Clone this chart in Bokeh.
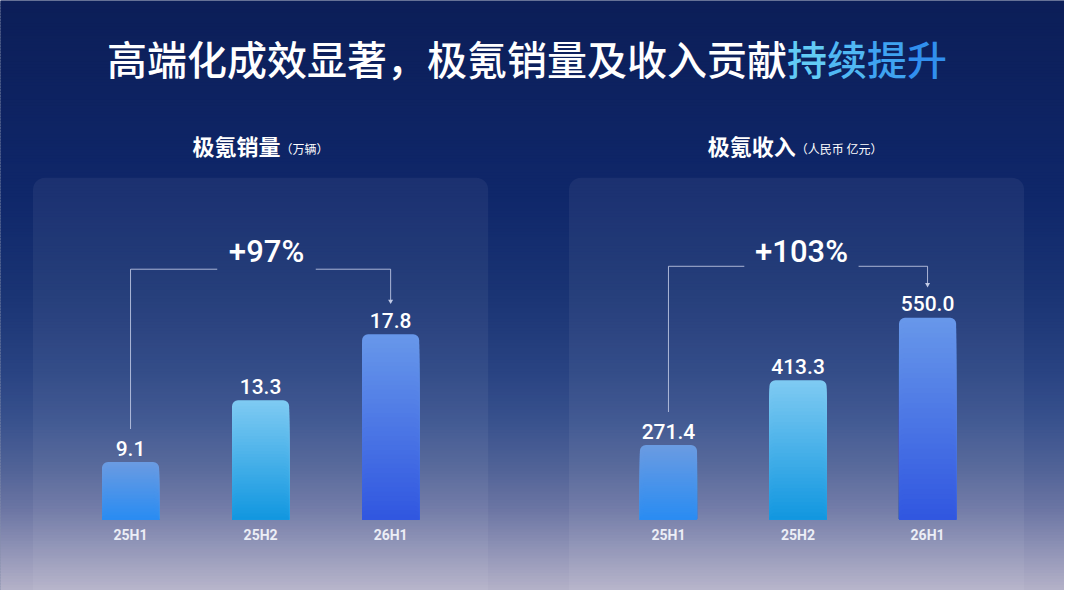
from bokeh.plotting import figure
from bokeh.models import Range1d, ColumnDataSource
from bokeh.core.properties import value
from bokeh.embed import file_html
from bokeh.resources import INLINE

# ---------------- data ----------------
categories = ["25H1", "25H2", "26H1"]
sales = [9.1, 13.3, 17.8]          # 万辆
revenue = [271.4, 413.3, 550.0]     # 人民币 亿元
sales_growth = "+97%"
revenue_growth = "+103%"
sales_labels = ["9.1", "13.3", "17.8"]
revenue_labels = ["271.4", "413.3", "550.0"]
title_white = "高端化成效显著，极氪销量及收入贡献"
title_blue = "持续提升"
sales_title = "极氪销量"
sales_unit = "（万辆）"
revenue_title = "极氪收入"
revenue_unit = "（人民币 亿元）"

# ---------------- style / layout constants ----------------
W, H = 1064, 590
X0, X1, Y0, Y1 = 0, 1080, 0, 606          # design coordinates
SX = (X1 - X0) / W                        # design units per screen px
BASE_PX = 533                             # bar baseline (design units)
CJK = value("'Noto Sans CJK SC Medium', 'Noto Sans CJK SC'")
CJKB = value("Noto Sans CJK SC")
NUM = value("'Roboto Medium', Roboto")

bar_colors = [("#6a9be2", "#2a8cf2"), ("#7ecaf2", "#1297e0"), ("#6797ea", "#3157e0")]

panels = {
    "s": dict(c0=132.0, step=132.0, base=5.2, ppu=15.1, vals=sales, labels=sales_labels),
    "r": dict(c0=678.0, step=131.5, base=109.0, ppu=0.47, vals=revenue, labels=revenue_labels),
}


def px_y(pn, v):
    d = panels[pn]
    return BASE_PX - (v - d["base"]) * d["ppu"]


def px_x(pn, i):
    d = panels[pn]
    return d["c0"] + i * d["step"]


def hexrgb(h):
    h = h.lstrip("#")
    return tuple(int(h[i:i + 2], 16) for i in (0, 2, 4))


def mix(a, b, t):
    a, b = hexrgb(a), hexrgb(b)
    return "#%02x%02x%02x" % tuple(int(round(a[k] + (b[k] - a[k]) * t)) for k in range(3))


p = figure(width=W, height=H, x_range=Range1d(X0, X1), y_range=Range1d(Y1, Y0),
           output_backend="svg", toolbar_location=None, min_border=0,
           x_axis_location=None, y_axis_location=None, tools="")
p.grid.visible = False
p.outline_line_color = None
p.background_fill_color = "#0c1e58"
p.border_fill_color = "#0c1e58"

p.extra_x_ranges = {}
p.extra_y_ranges = {}
for pn, d in panels.items():
    p.extra_x_ranges["x" + pn] = Range1d((X0 - d["c0"]) / d["step"], (X1 - d["c0"]) / d["step"])
    p.extra_y_ranges[pn] = Range1d(d["base"] + (BASE_PX - Y1) / d["ppu"],
                                   d["base"] + (BASE_PX - Y0) / d["ppu"])

# ---------------- background gradient ----------------
stops = [(0, "#0c1e58"), (200, "#0f276a"), (300, "#1a3474"), (380, "#294382"),
         (430, "#38518d"), (480, "#516397"), (520, "#6b75a3"), (560, "#8d91b5"),
         (606, "#b6b3c9")]
tops, bots, cols = [], [], []
y = 0
while y < 606:
    for (ya, ca), (yb, cb) in zip(stops[:-1], stops[1:]):
        if ya <= y <= yb:
            cols.append(mix(ca, cb, (y - ya) / (yb - ya)))
            break
    tops.append(y)
    bots.append(y + 4)
    y += 3
p.quad(left=X0 - 2, right=X1 + 2, top=tops, bottom=bots, fill_color=cols, line_color=None)

# ---------------- cards ----------------
p.quad(left=[33, 577], right=[495, 1039], top=[182, 182], bottom=[640, 640],
       fill_color="white", fill_alpha=0.055, line_color=None, border_radius=12)

# ---------------- title ----------------
FS = 40
ADV = FS * SX
split_x = 108 + len(title_white) * ADV
p.text(x=[split_x], y=[59], text=[title_white], text_font=CJK, text_font_size="%dpx" % FS,
       text_color="white", text_align="right", text_baseline="middle")
blue_cols = ["#62cbf5", "#50b8f3", "#3fa3f1", "#318fee"]
p.text(x=[split_x + i * ADV for i in range(len(title_blue))], y=[59] * len(title_blue),
       text=list(title_blue), text_font=CJK, text_font_size="%dpx" % FS,
       text_color=blue_cols, text_align="left", text_baseline="middle")

# ---------------- panel subtitles ----------------
for main, unit, start in [(sales_title, sales_unit, 195), (revenue_title, revenue_unit, 718)]:
    p.text(x=[start], y=[148], text=[main], text_font=CJKB, text_font_size="22px",
           text_font_style="bold", text_color="white", text_align="left", text_baseline="middle")
    p.text(x=[start + 22 * SX * len(main)], y=[152], text=[unit], text_font=CJKB,
           text_font_size="12px", text_color="white", text_align="left", text_baseline="middle")

# ---------------- bars (gradient via stacked slices) ----------------
N = 40
for pn, d in panels.items():
    xs, tp, bt, cl = [], [], [], []
    for k in range(N):
        frac = 1 - k / N
        for i, v in enumerate(d["vals"]):
            xs.append(i)
            tp.append(d["base"] + (v - d["base"]) * frac)
            bt.append(d["base"])
            cl.append(mix(bar_colors[i][0], bar_colors[i][1], k / (N - 1)))
    src = ColumnDataSource(dict(x=xs, top=tp, bottom=bt, color=cl))
    p.vbar(x="x", top="top", bottom="bottom", width=58 / d["step"], source=src,
           fill_color="color", line_color=None, border_radius=(6, 6, 0, 0),
           x_range_name="x" + pn, y_range_name=pn)
    # value labels
    p.text(x=list(range(len(d["vals"]))), y=[v + 14 / d["ppu"] for v in d["vals"]],
           text=d["labels"], text_font=NUM, text_font_size="21px", text_color="white",
           text_align="center", text_baseline="alphabetic",
           x_range_name="x" + pn, y_range_name=pn)
    # category labels
    p.text(x=list(range(len(categories))), y=[549] * len(categories), text=categories,
           text_font=value("Roboto"), text_font_size="14px", text_font_style="bold",
           text_color="#eceef6", text_align="center", text_baseline="middle",
           x_range_name="x" + pn)

# ---------------- growth connectors ----------------
conn_col = "#c3cbe6"
for pn, label, ly, lx, half in [("s", sales_growth, 276, 270, 50), ("r", revenue_growth, 273, 813, 58)]:
    d = panels[pn]
    xa, xb = px_x(pn, 0), px_x(pn, 2)
    ya = px_y(pn, d["vals"][0]) - 34
    yb = px_y(pn, d["vals"][2]) - 32
    p.line(x=[xa, xa, lx - half], y=[ya, ly, ly], line_color=conn_col, line_width=1, line_alpha=0.85)
    p.line(x=[lx + half, xb, xb], y=[ly, ly, yb - 3], line_color=conn_col, line_width=1, line_alpha=0.85)
    p.scatter(x=[xb], y=[yb - 2], marker="inverted_triangle", size=5, fill_color=conn_col,
              line_color=None)
    p.text(x=[lx], y=[258], text=[label], text_font=NUM, text_font_size="31px",
           text_color="white", text_align="center", text_baseline="alphabetic")

open("out.html", "w").write(file_html(p, INLINE))
